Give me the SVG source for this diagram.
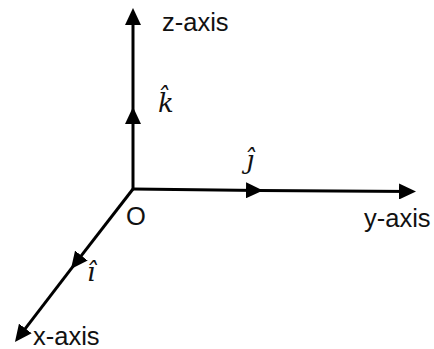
<svg xmlns="http://www.w3.org/2000/svg" width="434" height="349" viewBox="0 0 434 349">
<style>
.ax{stroke:#000;stroke-width:3;fill:none;marker-end:url(#ah)}
.lb{font-family:"Liberation Sans",Arial,sans-serif;font-size:25.5px;fill:#111}
.uv{font-family:"DejaVu Serif","Liberation Serif",serif;font-style:italic;font-size:26px;fill:#111}
</style>
<defs>
<marker id="ah" markerUnits="userSpaceOnUse" markerWidth="18" markerHeight="16" refX="13" refY="8" orient="auto">
<path d="M0,0 L17,8 L0,16 z" fill="#000"/>
</marker>
</defs>
<rect width="434" height="349" fill="#fff"/>
<g id="connectors">
<line class="ax" x1="133" y1="189" x2="133" y2="111"/>
<line class="ax" x1="133" y1="111" x2="133" y2="12"/>
<line class="ax" x1="133" y1="189" x2="259" y2="190.5"/>
<line class="ax" x1="259" y1="190.5" x2="412" y2="191.5"/>
<line class="ax" x1="133" y1="189" x2="73.4" y2="265.8"/>
<line class="ax" x1="73.4" y1="265.8" x2="17.4" y2="338.8"/>
</g>
<g id="origin"><text class="lb" x="126" y="225">O</text></g>
<g id="z-axis"><text class="lb" x="162" y="31">z-axis</text></g>
<g id="y-axis"><text class="lb" x="364" y="227">y-axis</text></g>
<g id="x-axis"><text class="lb" x="33" y="345">x-axis</text></g>
<g id="k-hat"><text class="uv" x="158" y="112">k̂</text></g>
<g id="j-hat"><text class="uv" x="246" y="169">ĵ</text></g>
<g id="i-hat"><text class="uv" x="87" y="281">î</text></g>
</svg>
